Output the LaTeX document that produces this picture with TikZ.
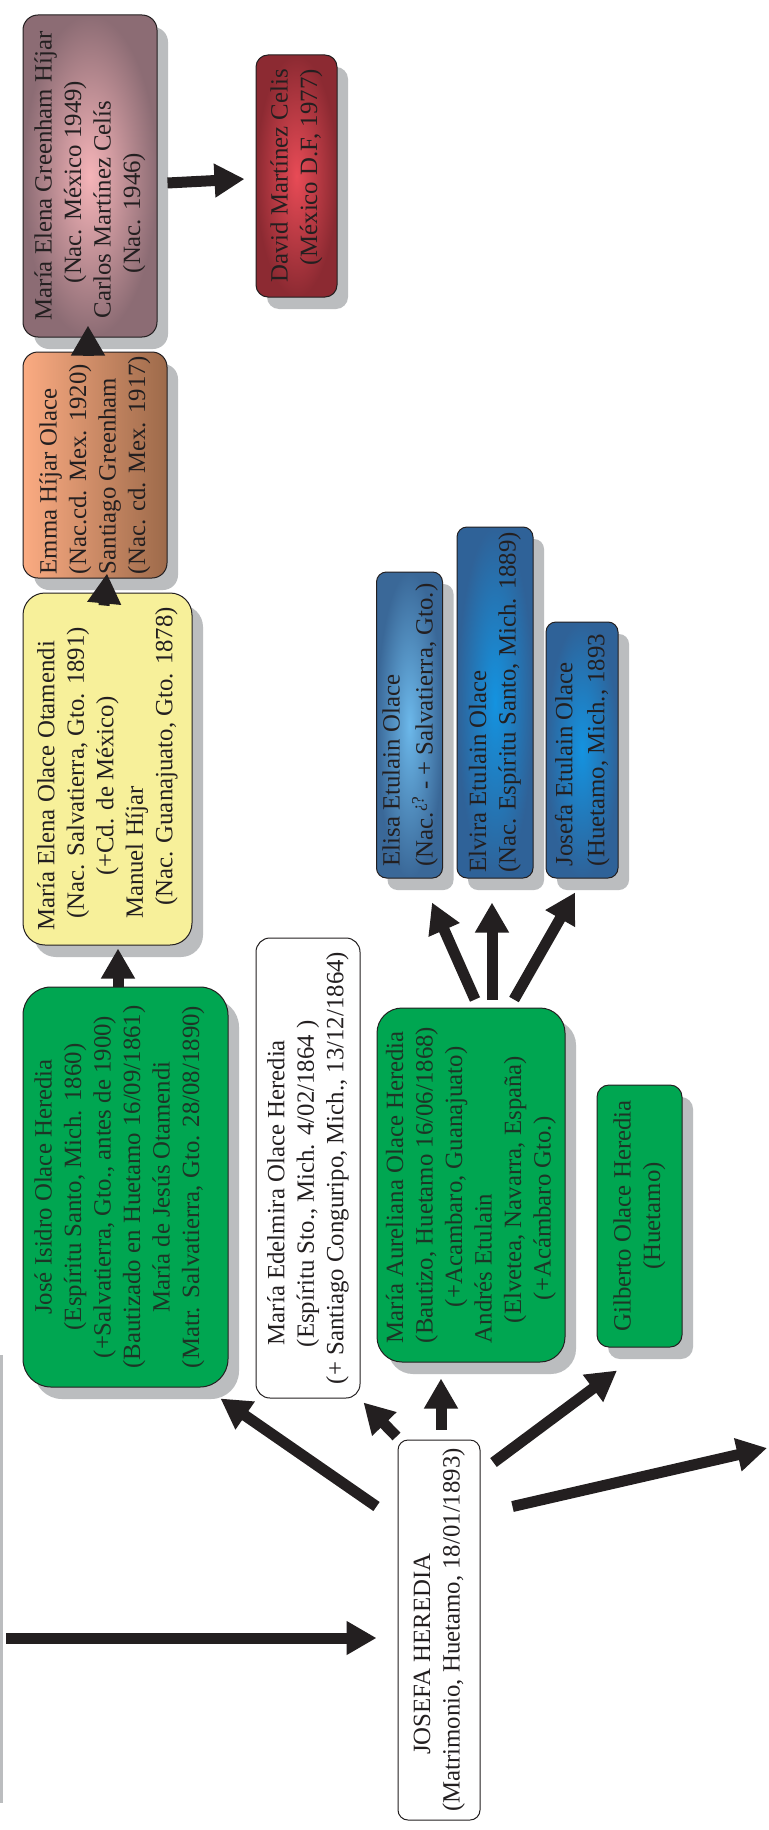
\documentclass[tikz,border=0pt]{standalone}
\usepackage{fontspec}
\setmainfont{Liberation Serif}
\usepackage{graphicx}
\usetikzlibrary{arrows.meta,shadows}
\definecolor{ink}{HTML}{231F20}
\definecolor{shadowgray}{HTML}{BBBDBF}
\definecolor{greenbox}{HTML}{00A651}
\definecolor{greentext}{HTML}{1D3526}
\definecolor{yellowbox}{HTML}{F7F09A}
\definecolor{purpin}{HTML}{F5B4B8}
\definecolor{purpout}{HTML}{8C6C74}
\definecolor{redin}{HTML}{E84B56}
\definecolor{redout}{HTML}{8C2A32}
\definecolor{orleft}{HTML}{FBAB82}
\definecolor{orright}{HTML}{9D6A4A}
\definecolor{bluein1}{HTML}{6CB8EA}
\definecolor{blueout1}{HTML}{3A6898}
\definecolor{bluein2}{HTML}{1493E0}
\definecolor{blueout2}{HTML}{2F6298}
\newcommand{\rotlines}[2]{\rotatebox{90}{\begin{tabular}{@{}#1@{}}#2\end{tabular}}}
\newcommand{\indt}[1]{\hspace*{#1pt}}
\tikzset{
  box/.style={draw=ink, line width=1pt, inner sep=0pt, text=ink,
    font=\fontsize{24.8}{29.5}\selectfont},
  shad/.style={drop shadow={shadow xshift=11pt, shadow yshift=-12pt, fill=shadowgray, opacity=1}},
  greenb/.style={fill=greenbox, text=greentext},
  arr/.style={draw=ink, line width=11pt, -{Triangle[width=32pt,length=30pt]}},
}
\begin{document}
\begin{tikzpicture}[x=1pt,y=-1pt]
\useasboundingbox (0,0) rectangle (768,1830);
\fill[white] (0,0) rectangle (768,1830);
\fill[shadowgray] (0,1355) rectangle (3,1803);

% generation boxes
\node[box, shad, rounded corners=15pt, inner color=purpin, outer color=purpout,
  minimum width=134pt, minimum height=322pt] (P) at (90,176)
  {\rotlines{l}{María Elena Greenham Híjar\\ \indt{37}(Nac. México 1949)\\ \indt{2}Carlos Martínez Celís\\ \indt{47}(Nac. 1946)}};

\node[box, shad, rounded corners=12pt, inner color=redin, outer color=redout,
  minimum width=81pt, minimum height=242pt] (D) at (296.5,176)
  {\rotlines{r}{David Martínez Celis\\(México D.F, 1977)}};

\node[box, shad, rounded corners=15pt, left color=orleft, right color=orright,
  minimum width=144pt, minimum height=226pt] (E) at (95,465)
  {\rotlines{l}{Emma Híjar Olace\\(Nac.cd. Mex. 1920)\\Santiago Greenham\\(Nac. cd. Mex. 1917)}};

\node[box, shad, rounded corners=22pt, fill=yellowbox,
  minimum width=169pt, minimum height=352pt] (Y) at (107.5,769)
  {\rotlines{l}{María Elena Olace Otamendi\\ \indt{12}(Nac. Salvatierra, Gto. 1891)\\ \indt{55}(+Cd. de México)\\ \indt{12}Manuel Híjar\\ \indt{25}(Nac. Guanajuato, Gto. 1878)}};

\node[box, shad, greenb, rounded corners=28pt,
  minimum width=205pt, minimum height=400pt] (G1) at (125.5,1187)
  {\rotlines{c}{José Isidro Olace Heredia\\(Espíritu Santo, Mich. 1860)\\(+Salvatierra, Gto., antes de 1900)\\(Bautizado en Huetamo 16/09/1861)\\María de Jesús Otamendi\\(Matr. Salvatierra, Gto. 28/08/1890)}\hspace*{12pt}};

\node[box, rounded corners=14pt, fill=white,
  minimum width=104pt, minimum height=460pt] (W) at (308,1168)
  {\rotlines{l}{\indt{39}María Edelmira Olace Heredia\\ \indt{37}(Espíritu Sto., Mich. 4/02/1864 )\\(+ Santiago Conguripo, Mich., 13/12/1864)}};

\node[box, shad, greenb, rounded corners=25pt,
  minimum width=188pt, minimum height=354pt] (G2) at (471,1185)
  {\rotlines{l}{María Aureliana Olace Heredia\\(Bautizo, Huetamo 16/06/1868)\\ \indt{36}(+Acambaro, Guanajuato)\\Andrés Etulain\\ \indt{20}(Elvetea, Navarra, España)\\ \indt{43}(+Acámbaro Gto.)}};

\node[box, shad, greenb, rounded corners=12pt,
  minimum width=85pt, minimum height=262pt] (G3) at (639.5,1216)
  {\rotlines{c}{Gilberto Olace Heredia\\(Huetamo)}};

\node[box, shad, rounded corners=10pt, inner color=bluein1, outer color=blueout1,
  font=\fontsize{24.8}{33}\selectfont,
  minimum width=65pt, minimum height=306pt] (B1) at (409.5,725)
  {\rotlines{l}{Elisa Etulain Olace\\(Nac.\textsuperscript{¿?} - + Salvatierra, Gto.)}};

\node[box, shad, rounded corners=10pt, inner color=bluein2, outer color=blueout2,
  minimum width=76pt, minimum height=351pt] (B2) at (495,702.5)
  {\rotlines{l}{Elvira Etulain Olace\\(Nac. Espíritu Santo, Mich. 1889)}};

\node[box, shad, rounded corners=10pt, inner color=bluein2, outer color=blueout2,
  font=\fontsize{24.8}{32}\selectfont,
  minimum width=72pt, minimum height=256pt] (B3) at (582,750)
  {\rotlines{l}{Josefa Etulain Olace\\(Huetamo, Mich., 1893}};

\node[box, rounded corners=10pt, fill=white,
  minimum width=82pt, minimum height=380pt] (J) at (439,1630)
  {\rotlines{l}{\indt{57}JOSEFA HEREDIA\\(Matrimonio, Huetamo, 18/01/1893)}};

\coordinate (leftend) at (6,1638);
\coordinate (rightend) at (767,1448);

% connectors
\draw[arr] ([xshift=10pt,yshift=-7pt]P.east) -- ([xshift=-11pt,yshift=-3pt]D.west);
\draw[arr] ([xshift=-7pt,yshift=-4pt]E.north) -- ([xshift=-2pt,yshift=12pt]P.south);
\draw[arr] ([xshift=-3.5pt,yshift=-13pt]Y.north) -- ([xshift=12pt,yshift=5pt]E.south);
\draw[arr] ([xshift=-7.5pt]G1.north) -- ([xshift=10.5pt,yshift=-3pt]Y.south);

\draw[arr] ([xshift=4pt,yshift=8pt]G2.north) -- ([xshift=22.5pt,yshift=-24pt]B1.south);
\draw[arr] ([xshift=21pt,yshift=8pt]G2.north) -- ([xshift=-3pt,yshift=-24pt]B2.south);
\draw[arr] ([xshift=43pt,yshift=8pt]G2.north) -- ([xshift=-7pt,yshift=-14pt]B3.south);

\draw[arr] (leftend) -- ([xshift=-21pt,yshift=-8pt]J.west);
\draw[arr] ([xshift=-21pt,yshift=-67pt]J.north west) -- ([xshift=-8pt,yshift=-11pt]G1.south east);
\draw[arr] ([xshift=-1pt,yshift=3pt]J.north west) -- ([xshift=3pt,yshift=-4pt]W.south east);
\draw[arr] ([xshift=2pt,yshift=10pt]J.north) -- ([xshift=-30pt,yshift=-16pt]G2.south);
\draw[arr] ([xshift=13pt,yshift=-23pt]J.north east) -- ([xshift=-22.5pt,yshift=-23pt]G3.south);
\draw[arr] ([xshift=32pt,yshift=-67pt]J.north east) -- (rightend);
\end{tikzpicture}
\end{document}
